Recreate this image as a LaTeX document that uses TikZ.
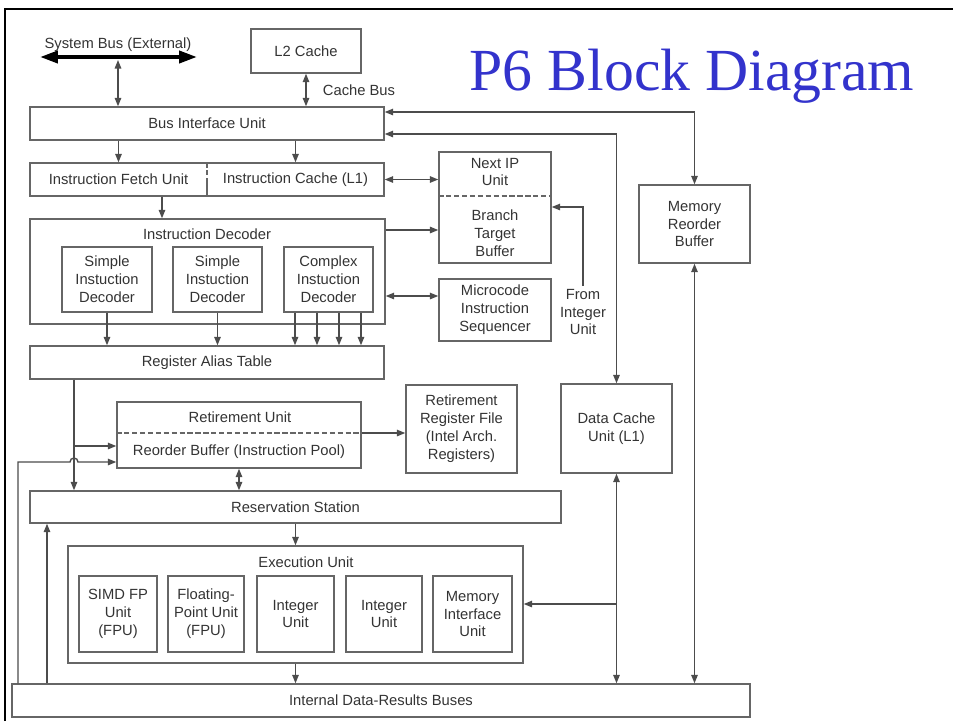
\documentclass[tikz,border=0pt]{standalone}
\usepackage{fontspec}
\setmainfont{Liberation Serif}
\setsansfont{Liberation Sans}
\usetikzlibrary{arrows.meta}
\definecolor{titleblue}{RGB}{51,51,204}
\tikzset{
  box/.style={draw=black!60, line width=0.8pt, inner sep=0pt, align=center,
    text=black!80, font=\sffamily\fontsize{8.4}{10.2}\selectfont},
  wh/.style 2 args={minimum width=#1*0.02cm, minimum height=#2*0.02cm},
  txt/.style={inner sep=0pt, align=center, text=black!80,
    font=\sffamily\fontsize{8.4}{10.2}\selectfont},
  link/.style={draw=black!70, line width=0.8pt},
  arr/.style={link, -{Triangle[length=1.7mm, width=1.3mm]}},
  darr/.style={link, {Triangle[length=1.7mm, width=1.3mm]}-{Triangle[length=1.7mm, width=1.3mm]}},
  divline/.style={draw=black!60, line width=0.8pt, dash pattern=on 3pt off 1.5pt},
}
\begin{document}
\begin{tikzpicture}[x=0.02cm, y=-0.02cm]
\useasboundingbox (0,0) rectangle (953,721);
\draw[line width=1.5pt] (5,721) -- (5,9) -- (953,9);
\node[anchor=base, inner sep=0pt, text=titleblue, font=\fontsize{34}{40}\selectfont] (ttl) at (692,90) {P6 Block Diagram};
\coordinate (sysL) at (40,57);
\coordinate (sysR) at (197,57);
\coordinate (sysM) at (118,60);
\node[txt] (sysbus) at (118,45) {System Bus (External)};
\node[box, wh={110}{44}] (l2) at (306,51) {L2 Cache};
\node[txt] (cbus) at (359,90) {Cache Bus};
\node[box, wh={354}{33}] (biu) at (207,123.5) {Bus Interface Unit};
\node[box, wh={354}{33}] (fetch) at (207,179.5) {};
\node[txt] (ifu) at (118.5,179.5) {Instruction Fetch Unit};
\node[txt] (icu) at (295.5,179.5) {Instruction Cache (L1)};
\node[box, wh={112}{111}] (bpu) at (495,207.5) {};
\node[txt] (nip) at (495,172) {Next IP\\Unit};
\node[txt] (btb) at (495,233) {Branch\\Target\\Buffer};
\node[box, wh={355}{105}] (idec) at (207.5,271.5) {};
\node[txt] (idt) at (207,234) {Instruction Decoder};
\node[box, wh={90}{65}] (sd1) at (107,279.5) {Simple\\Instuction\\Decoder};
\node[box, wh={89}{65}] (sd2) at (217.5,279.5) {Simple\\Instuction\\Decoder};
\node[box, wh={89}{65}] (cd) at (328.5,279.5) {Complex\\Instuction\\Decoder};
\node[box, wh={112}{62}] (mis) at (495,310) {Microcode\\Instruction\\Sequencer};
\node[txt, inner sep=1.5pt] (fromint) at (583,312) {From\\Integer\\Unit};
\node[box, wh={354}{33}] (rat) at (207,362.5) {Register Alias Table};
\node[box, wh={111}{78}] (mrb) at (694.5,224) {Memory\\Reorder\\Buffer};
\node[box, wh={111}{89}] (dcu) at (616.5,428.5) {Data Cache\\Unit (L1)};
\node[box, wh={244}{66}] (rob) at (239,435) {};
\node[txt] (ru) at (240,417) {Retirement Unit};
\node[txt] (robt) at (239,452) {Reorder Buffer (Instruction Pool)};
\node[box, wh={111}{88}] (rrf) at (461.5,429) {Retirement\\Register File\\(Intel Arch.\\Registers)};
\node[box, wh={531}{32}] (rs) at (295.5,507) {Reservation Station};
\node[box, wh={455}{117}] (eu) at (295.5,604.5) {};
\node[txt] (eut) at (306,562) {Execution Unit};
\node[box, wh={78}{76}] (simd) at (118,614) {SIMD FP\\Unit\\(FPU)};
\node[box, wh={76}{76}] (fpu) at (206,614) {Floating-\\Point Unit\\(FPU)};
\node[box, wh={77}{76}] (int1) at (295.5,614) {Integer\\Unit};
\node[box, wh={76}{76}] (int2) at (384,614) {Integer\\Unit};
\node[box, wh={79}{76}] (miu) at (472.5,614) {Memory\\Interface\\Unit};
\node[box, wh={738}{33}] (bus) at (381,700.5) {Internal Data-Results Buses};
\draw[divline] (fetch.north) -- (fetch.center);
\draw[link, draw=black!60] (fetch.center) -- (fetch.south);
\draw[divline] (bpu.west |- 0,196) -- (bpu.east |- 0,196);
\draw[divline] (rob.west |- 0,433) -- (rob.east |- 0,433);
\draw[line width=2.2pt, {Triangle[length=3.6mm, width=2.4mm]}-{Triangle[length=3.6mm, width=2.4mm]}] (sysL) -- (sysR);
\draw[darr] (sysM) -- (sysM |- biu.north);
\draw[darr] (l2.south) -- (l2.south |- biu.north);
\draw[arr] (biu.south -| ifu) -- (ifu |- fetch.north);
\draw[arr] (biu.south -| icu) -- (icu |- fetch.north);
\draw[darr] (fetch.east) -- (fetch.east -| bpu.west);
\draw[darr] (biu.east |- 0,112) -| (mrb.north);
\draw[darr] (biu.east |- 0,134) -| (dcu.north);
\draw[arr] (fetch.south -| 162,0) -- (idec.north -| 162,0);
\draw[arr] (idec.east |- 0,230) -- (bpu.west |- 0,230);
\draw[darr] (idec.east |- 0,296) -- (mis.west |- 0,296);
\draw[arr] (fromint.north) |- (bpu.east |- 0,207);
\draw[arr] (sd1.south) -- (sd1.south |- rat.north);
\draw[arr] (sd2.south) -- (sd2.south |- rat.north);
\foreach \x in {295,317,339,361}
  \draw[arr] (cd.south -| \x,0) -- (rat.north -| \x,0);
\draw[arr] (rat.south -| 74,0) -- (rs.north -| 74,0);
\draw[arr] (74,446) -- (rob.west |- 0,446);
\draw[arr] (bus.north -| 18,0) -- (18,462) -- (70,462) arc (180:360:4) -- (rob.west |- 0,462);
\draw[arr] (bus.north -| 47,0) -- (rs.south -| 47,0);
\draw[darr] (rob.south) -- (rob.south |- rs.north);
\draw[arr] (rob.east |- 0,433) -- (rrf.west |- 0,433);
\draw[arr] (rs.south -| eu.north) -- (eu.north);
\draw[arr] (eu.south) -- (eu.south |- bus.north);
\draw[darr] (dcu.south) -- (dcu.south |- bus.north);
\draw[arr] (dcu.south |- 0,604) -- (eu.east |- 0,604);
\draw[darr] (mrb.south) -- (mrb.south |- bus.north);
\end{tikzpicture}
\end{document}
